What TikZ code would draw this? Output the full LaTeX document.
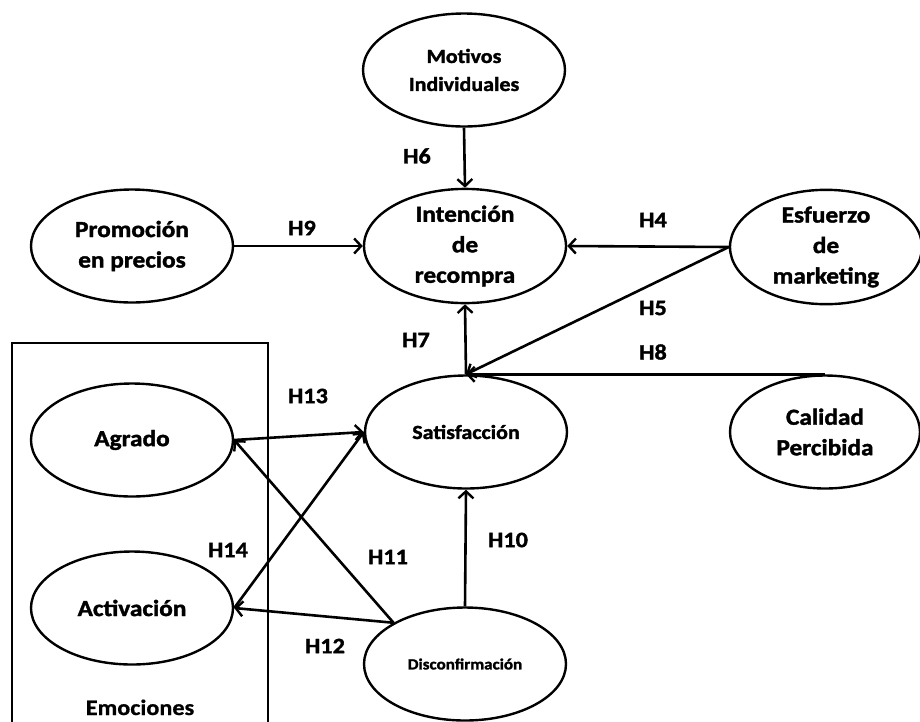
\documentclass[tikz,border=0pt]{standalone}
\usepackage{fontspec}
\setmainfont{Carlito}
\newfontfamily\lab{Carlito}[FakeStretch=1.1,BoldFeatures={FakeBold=1.6}]
\newfontfamily\labe{Carlito}[FakeStretch=1.1,BoldFeatures={FakeBold=0.8}]
\usetikzlibrary{shapes.geometric,arrows.meta}
\begin{document}
\begin{tikzpicture}[x=1pt,y=-1pt,
  ell/.style={draw,ellipse,line width=2.4pt,minimum width=202pt,minimum height=113pt,inner sep=0pt,align=center,
    font=\lab\bfseries\fontsize{23}{30.5}\selectfont},
  hl/.style={inner sep=0pt,font=\lab\bfseries\fontsize{22}{26}\selectfont},
  arr/.style={line width=2.6pt,-{Straight Barb[length=7pt,width=15pt,line width=2.4pt]}},
]
\useasboundingbox[fill=white] (0,0) rectangle (920,721);

% Emociones box
\draw[line width=2.4pt] (12,725) -- (12,343) -- (268,343) -- (268,725);
\node[inner sep=0pt,anchor=base,font=\labe\bfseries\fontsize{22}{26}\selectfont] (emo) at (140,715) {Emociones};

% nodes
\node[ell,font=\lab\bfseries\fontsize{20}{28}\selectfont] (mot) at (464,70) {Motivos\\Individuales};
\node[ell] (int) at (465,246) {Intención\\de\\recompra};
\node[ell] (pro) at (132,246) {Promoción\\en precios};
\node[ell,minimum width=192pt] (esf) at (826,247) {Esfuerzo\\de\\marketing};
\node[ell,minimum width=190pt] (cal) at (825,432) {Calidad\\Percibida};
\node[ell,font=\lab\bfseries\fontsize{20}{24}\selectfont] (sat) at (466,432) {Satisfacción};
\node[ell] (agr) at (132,440) {Agrado};
\node[ell] (act) at (132,608) {Activación};
\node[ell,font=\lab\bfseries\fontsize{15.5}{18}\selectfont] (dis) at (465,664) {Disconfirmación};

% connectors
\draw[arr] (mot.south) -- (int.north);
\draw[arr] (pro.east) -- (int.west);
\draw[arr] (esf.west) -- (int.east);
\draw[arr] (esf.west) -- (sat.north);
\draw[arr] (cal.north) -- (sat.north);
\draw[arr] (sat.north) -- (int.south);
\draw[arr] (agr.east) -- (sat.west);
\draw[arr] (act.east) -- (sat.west);
\draw[arr] (dis.150) -- (agr.east);
\draw[arr] (dis.150) -- (act.east);
\draw[arr] (dis.north) -- (sat.south);

% labels
\node[hl] (h6) at (417,156) {H6};
\node[hl] (h9) at (302,228) {H9};
\node[hl] (h4) at (653,220) {H4};
\node[hl] (h5) at (653,308) {H5};
\node[hl] (h8) at (653,352) {H8};
\node[hl] (h7) at (416,340) {H7};
\node[hl] (h13) at (308,396) {H13};
\node[hl] (h14) at (228,550) {H14};
\node[hl] (h11) at (388,557) {H11};
\node[hl] (h10) at (508,540) {H10};
\node[hl] (h12) at (325,646) {H12};
\end{tikzpicture}
\end{document}
